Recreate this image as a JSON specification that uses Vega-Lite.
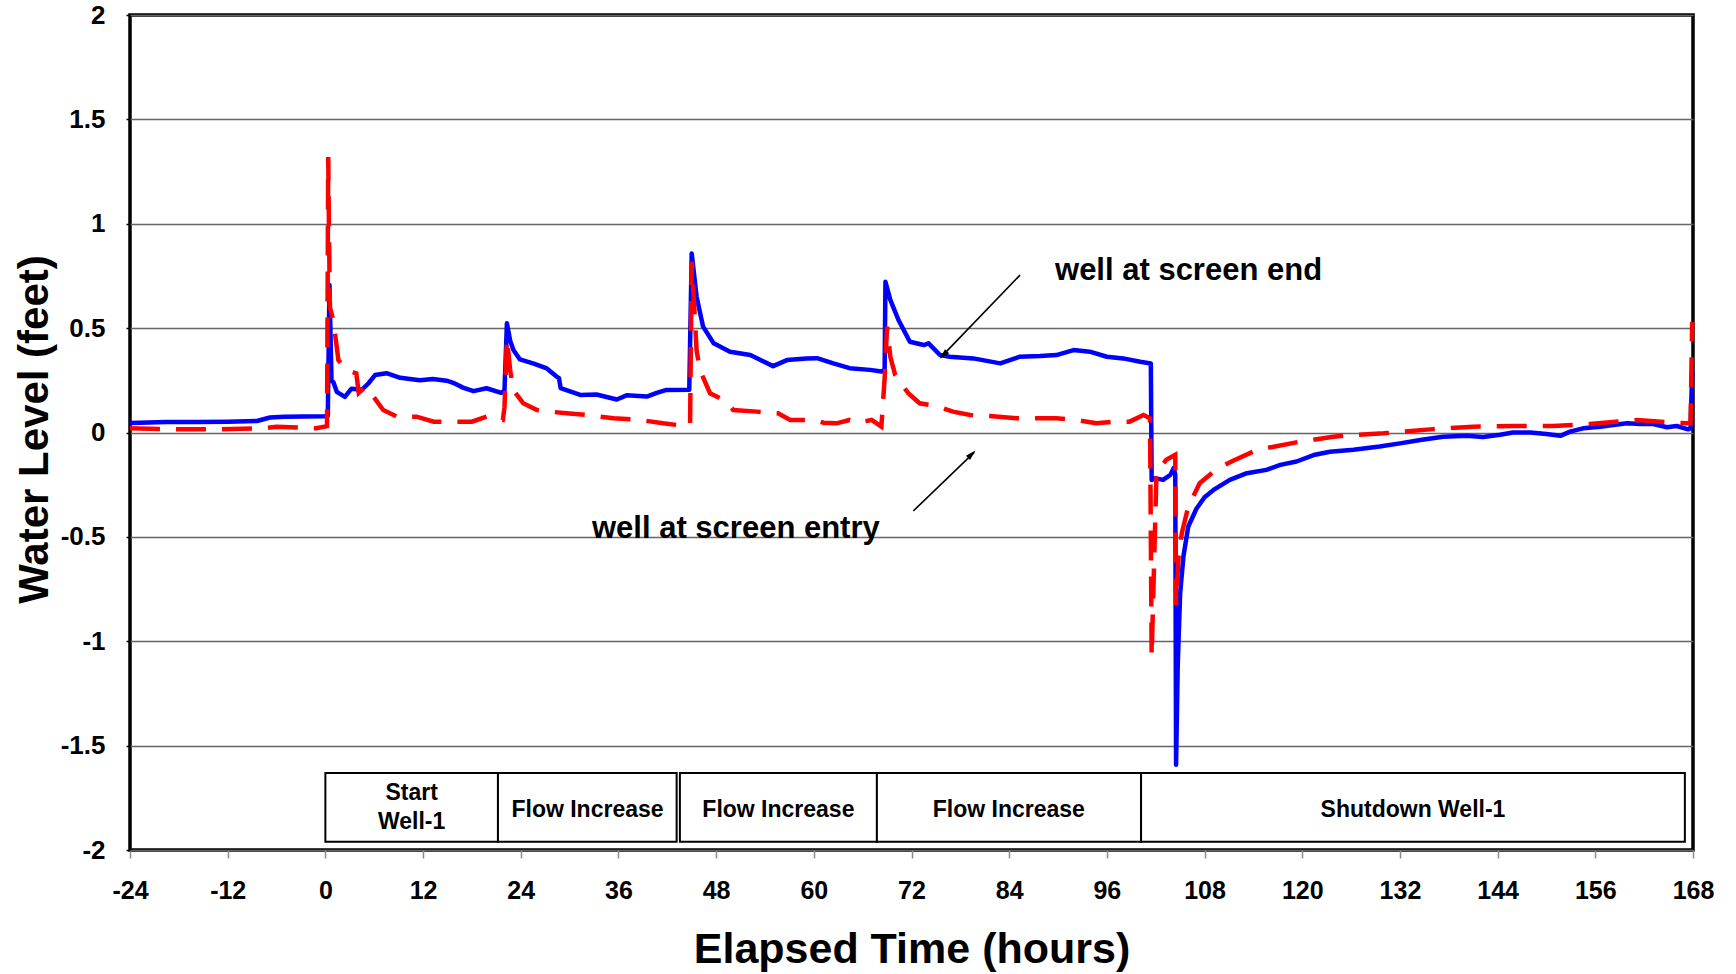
{
  "$schema": "https://vega.github.io/schema/vega-lite/v6.json",
  "width": 1563,
  "height": 835,
  "autosize": {"type": "none"},
  "padding": {"left": 130, "top": 15, "right": 43, "bottom": 124},
  "background": "white",
  "config": {
    "view": {"stroke": "black", "strokeWidth": 3.5},
    "font": "Liberation Sans",
    "axis": {
      "labelFont": "Liberation Sans",
      "labelFontWeight": "bold",
      "labelFontSize": 25,
      "labelColor": "black",
      "labelFlush": false,
      "labelOverlap": false,
      "titleFont": "Liberation Sans",
      "titleFontWeight": "bold",
      "titleFontSize": 42,
      "titleColor": "black",
      "domain": false
    }
  },
  "datasets": {
    "blue": [
      {"h": -24, "v": 0.045}, {"h": -19.5, "v": 0.05}, {"h": -15.8, "v": 0.05}, {"h": -12, "v": 0.052},
      {"h": -8.4, "v": 0.055}, {"h": -6.8, "v": 0.072}, {"h": -5, "v": 0.076}, {"h": -0.1, "v": 0.078},
      {"h": 0.3, "v": 0.08}, {"h": 0.5, "v": 0.707}, {"h": 0.75, "v": 0.25}, {"h": 1.0, "v": 0.24},
      {"h": 1.4, "v": 0.195}, {"h": 2.4, "v": 0.171}, {"h": 3.2, "v": 0.21}, {"h": 4.5, "v": 0.205},
      {"h": 5.3, "v": 0.236}, {"h": 6.1, "v": 0.275}, {"h": 7.5, "v": 0.284}, {"h": 9.2, "v": 0.262},
      {"h": 11.6, "v": 0.25}, {"h": 13.2, "v": 0.256}, {"h": 14.9, "v": 0.248}, {"h": 15.7, "v": 0.238}, {"h": 16.9, "v": 0.215}, {"h": 18.2, "v": 0.198},
      {"h": 19.8, "v": 0.212}, {"h": 21.6, "v": 0.19}, {"h": 22.0, "v": 0.2}, {"h": 22.3, "v": 0.523},
      {"h": 22.7, "v": 0.44}, {"h": 23.1, "v": 0.395}, {"h": 23.9, "v": 0.35}, {"h": 25.6, "v": 0.33},
      {"h": 27.2, "v": 0.307}, {"h": 28.4, "v": 0.268}, {"h": 28.7, "v": 0.26}, {"h": 28.9, "v": 0.212},
      {"h": 31.3, "v": 0.18}, {"h": 33.3, "v": 0.182}, {"h": 35.8, "v": 0.158}, {"h": 37.0, "v": 0.178},
      {"h": 39.5, "v": 0.172}, {"h": 40.7, "v": 0.19}, {"h": 41.9, "v": 0.204}, {"h": 44.7, "v": 0.205},
      {"h": 45.0, "v": 0.858}, {"h": 45.6, "v": 0.651}, {"h": 46.4, "v": 0.507}, {"h": 47.7, "v": 0.427},
      {"h": 49.7, "v": 0.387}, {"h": 52.2, "v": 0.371}, {"h": 55.0, "v": 0.318}, {"h": 56.7, "v": 0.347},
      {"h": 59.1, "v": 0.355}, {"h": 60.4, "v": 0.356}, {"h": 62.4, "v": 0.331}, {"h": 64.4, "v": 0.308},
      {"h": 66.9, "v": 0.3}, {"h": 68.3, "v": 0.292}, {"h": 68.7, "v": 0.3}, {"h": 68.8, "v": 0.722},
      {"h": 69.4, "v": 0.635}, {"h": 70.4, "v": 0.539}, {"h": 71.8, "v": 0.435}, {"h": 73.5, "v": 0.419},
      {"h": 74.1, "v": 0.427}, {"h": 75.5, "v": 0.371}, {"h": 76.7, "v": 0.363}, {"h": 79.6, "v": 0.355},
      {"h": 82.9, "v": 0.331}, {"h": 85.3, "v": 0.363}, {"h": 87.8, "v": 0.366}, {"h": 89.8, "v": 0.371},
      {"h": 91.9, "v": 0.395}, {"h": 93.9, "v": 0.387}, {"h": 96.0, "v": 0.363}, {"h": 98.0, "v": 0.355},
      {"h": 100.1, "v": 0.339}, {"h": 101.4, "v": 0.331}, {"h": 101.5, "v": -0.227}, {"h": 101.9, "v": -0.219},
      {"h": 102.9, "v": -0.227}, {"h": 103.8, "v": -0.203}, {"h": 104.2, "v": -0.171}, {"h": 104.4, "v": -0.2},
      {"h": 104.5, "v": -1.592}, {"h": 104.7, "v": -1.121}, {"h": 105.0, "v": -0.77}, {"h": 105.4, "v": -0.595},
      {"h": 106.0, "v": -0.45}, {"h": 107.0, "v": -0.365}, {"h": 108.0, "v": -0.31}, {"h": 109.1, "v": -0.275},
      {"h": 111.1, "v": -0.227}, {"h": 113.2, "v": -0.195}, {"h": 115.6, "v": -0.179}, {"h": 117.3, "v": -0.155},
      {"h": 119.3, "v": -0.139}, {"h": 121.4, "v": -0.108}, {"h": 123.4, "v": -0.092}, {"h": 126.3, "v": -0.083},
      {"h": 129.5, "v": -0.067}, {"h": 132.0, "v": -0.052}, {"h": 134.5, "v": -0.036}, {"h": 137.3, "v": -0.02},
      {"h": 140.2, "v": -0.016}, {"h": 142.2, "v": -0.022}, {"h": 144.3, "v": -0.011}, {"h": 145.9, "v": 0.0},
      {"h": 148.0, "v": 0.0}, {"h": 150.0, "v": -0.007}, {"h": 151.7, "v": -0.016}, {"h": 152.9, "v": 0.004},
      {"h": 154.5, "v": 0.02}, {"h": 156.6, "v": 0.028}, {"h": 158.2, "v": 0.036}, {"h": 159.9, "v": 0.044},
      {"h": 161.5, "v": 0.041}, {"h": 163.1, "v": 0.041}, {"h": 164.8, "v": 0.025}, {"h": 166.0, "v": 0.031},
      {"h": 167.4, "v": 0.015}, {"h": 167.7, "v": 0.02}, {"h": 167.9, "v": 0.3}
    ],
    "red": [
      {"h": -24, "v": 0.02}, {"h": -19.9, "v": 0.016}, {"h": -13.8, "v": 0.015}, {"h": -7.6, "v": 0.02},
      {"h": -6.0, "v": 0.028}, {"h": -1.1, "v": 0.02}, {"h": 0.2, "v": 0.03}, {"h": 0.35, "v": 1.32},
      {"h": 0.55, "v": 0.6}, {"h": 0.9, "v": 0.55}, {"h": 1.3, "v": 0.44}, {"h": 1.6, "v": 0.347},
      {"h": 2.6, "v": 0.299}, {"h": 3.8, "v": 0.283}, {"h": 4.1, "v": 0.19}, {"h": 4.9, "v": 0.219},
      {"h": 5.9, "v": 0.172}, {"h": 7.1, "v": 0.108}, {"h": 8.8, "v": 0.076}, {"h": 11.2, "v": 0.076},
      {"h": 13.3, "v": 0.052}, {"h": 15.3, "v": 0.052}, {"h": 18.0, "v": 0.052}, {"h": 19.8, "v": 0.076},
      {"h": 21.3, "v": 0.06}, {"h": 21.8, "v": 0.06}, {"h": 22.0, "v": 0.12}, {"h": 22.3, "v": 0.45},
      {"h": 22.7, "v": 0.299}, {"h": 23.1, "v": 0.203}, {"h": 24.3, "v": 0.14}, {"h": 26.0, "v": 0.108},
      {"h": 27.6, "v": 0.1}, {"h": 29.6, "v": 0.092}, {"h": 32.1, "v": 0.084}, {"h": 35.4, "v": 0.068},
      {"h": 38.7, "v": 0.06}, {"h": 41.5, "v": 0.044}, {"h": 43.2, "v": 0.036}, {"h": 44.8, "v": 0.036},
      {"h": 45.0, "v": 0.818}, {"h": 45.6, "v": 0.395}, {"h": 46.0, "v": 0.3}, {"h": 47.25, "v": 0.188},
      {"h": 49.3, "v": 0.148}, {"h": 50.1, "v": 0.108}, {"h": 53.0, "v": 0.1}, {"h": 55.6, "v": 0.092},
      {"h": 57.1, "v": 0.06}, {"h": 60.0, "v": 0.06}, {"h": 61.2, "v": 0.047}, {"h": 62.8, "v": 0.044},
      {"h": 64.4, "v": 0.06}, {"h": 65.3, "v": 0.047}, {"h": 67.1, "v": 0.06}, {"h": 68.3, "v": 0.028},
      {"h": 68.7, "v": 0.26}, {"h": 69.0, "v": 0.507}, {"h": 69.4, "v": 0.363}, {"h": 70.0, "v": 0.275},
      {"h": 71.6, "v": 0.188}, {"h": 73.0, "v": 0.14}, {"h": 75.1, "v": 0.127}, {"h": 77.1, "v": 0.1},
      {"h": 79.2, "v": 0.084}, {"h": 81.6, "v": 0.079}, {"h": 84.9, "v": 0.068}, {"h": 87.4, "v": 0.068},
      {"h": 89.8, "v": 0.068}, {"h": 92.3, "v": 0.06}, {"h": 94.7, "v": 0.044}, {"h": 96.8, "v": 0.052},
      {"h": 98.8, "v": 0.052}, {"h": 100.5, "v": 0.084}, {"h": 101.3, "v": 0.068}, {"h": 101.5, "v": -1.073},
      {"h": 102.1, "v": -0.187}, {"h": 103.3, "v": -0.131}, {"h": 104.4, "v": -0.107}, {"h": 104.5, "v": -0.826},
      {"h": 104.8, "v": -0.595}, {"h": 105.2, "v": -0.483}, {"h": 106.0, "v": -0.355}, {"h": 107.4, "v": -0.243},
      {"h": 109.5, "v": -0.175}, {"h": 111.5, "v": -0.135}, {"h": 114.4, "v": -0.084}, {"h": 116.5, "v": -0.068},
      {"h": 119.7, "v": -0.044}, {"h": 123.8, "v": -0.02}, {"h": 126.3, "v": -0.012}, {"h": 130.0, "v": -0.004},
      {"h": 135.7, "v": 0.015}, {"h": 141.0, "v": 0.028}, {"h": 145.9, "v": 0.031}, {"h": 150.8, "v": 0.031},
      {"h": 155.3, "v": 0.041}, {"h": 161.1, "v": 0.06}, {"h": 165.6, "v": 0.047}, {"h": 167.4, "v": 0.044},
      {"h": 167.7, "v": 0.045}, {"h": 167.9, "v": 0.53}
    ],
    "boxes": [
      {"h": 0.0, "h2": 21.2, "v": -1.631, "v2": -1.961, "mid": 10.6, "lv": -1.727, "label": "Start\nWell-1"},
      {"h": 21.2, "h2": 43.15, "v": -1.631, "v2": -1.961, "mid": 32.2, "lv": -1.806, "label": "Flow Increase"},
      {"h": 43.55, "h2": 67.75, "v": -1.631, "v2": -1.961, "mid": 55.65, "lv": -1.806, "label": "Flow Increase"},
      {"h": 67.75, "h2": 100.2, "v": -1.631, "v2": -1.961, "mid": 83.95, "lv": -1.806, "label": "Flow Increase"},
      {"h": 100.2, "h2": 167.0, "v": -1.631, "v2": -1.961, "mid": 133.6, "lv": -1.806, "label": "Shutdown Well-1"}
    ],
    "notes": [
      {"h": 89.63, "v": 0.7305, "label": "well at screen end"},
      {"h": 32.75, "v": -0.5054, "label": "well at screen entry"}
    ],
    "arrows": [
      {"id": "end", "h": 85.33, "v": 0.754, "h2": 75.6, "v2": 0.36},
      {"id": "entry", "h": 72.22, "v": -0.376, "h2": 79.7, "v2": -0.095}
    ],
    "heads": [
      {"id": "end", "h": 75.92, "v": 0.371},
      {"id": "entry", "h": 79.4, "v": -0.104}
    ]
  },
  "encoding": {
    "x": {
      "field": "h", "type": "quantitative",
      "scale": {"domain": [-24, 168], "nice": false, "zero": false},
      "axis": {
        "values": [-24, -12, 0, 12, 24, 36, 48, 60, 72, 84, 96, 108, 120, 132, 144, 156, 168],
        "labelExpr": "datum.value + ''",
        "grid": false,
        "tickColor": "#8c8c8c", "tickWidth": 1.5, "tickSize": 8,
        "labelPadding": 20,
        "title": "Elapsed Time (hours)",
        "titleFontSize": 43,
        "titleY": 112, "titleBaseline": "alphabetic"
      }
    },
    "y": {
      "field": "v", "type": "quantitative",
      "scale": {"domain": [-2, 2], "nice": false, "zero": false},
      "axis": {
        "values": [-2, -1.5, -1, -0.5, 0, 0.5, 1, 1.5, 2],
        "labelExpr": "datum.value + ''",
        "labelFontSize": 26,
        "grid": true, "gridColor": "#666666", "gridWidth": 1.5,
        "tickColor": "black", "tickWidth": 1.5, "tickSize": 4,
        "labelPadding": 21,
        "title": "Water Level (feet)",
        "titleX": -83, "titleY": 414, "titleBaseline": "alphabetic", "titleAngle": -90
      }
    }
  },
  "layer": [
    {
      "data": {"name": "blue"},
      "mark": {"type": "line", "color": "#0000ff", "strokeWidth": 4.5, "strokeJoin": "round"}
    },
    {
      "data": {"name": "red"},
      "mark": {"type": "line", "color": "#ff0000", "strokeWidth": 4.5, "strokeDash": [30, 16]}
    },
    {
      "data": {"name": "boxes"},
      "mark": {"type": "rect", "fill": "white", "stroke": "black", "strokeWidth": 2},
      "encoding": {"x2": {"field": "h2"}, "y2": {"field": "v2"}}
    },
    {
      "data": {"name": "boxes"},
      "mark": {"type": "text", "font": "Liberation Sans", "fontWeight": "bold", "fontSize": 23, "align": "center", "baseline": "middle", "lineBreak": "\n", "lineHeight": 29, "color": "black"},
      "encoding": {
        "x": {"field": "mid", "type": "quantitative"},
        "y": {"field": "lv", "type": "quantitative"},
        "text": {"field": "label"}
      }
    },
    {
      "data": {"name": "notes"},
      "mark": {"type": "text", "font": "Liberation Sans", "fontWeight": "bold", "fontSize": 31, "align": "left", "baseline": "alphabetic", "color": "black"},
      "encoding": {"text": {"field": "label"}}
    },
    {
      "data": {"name": "arrows"},
      "mark": {"type": "rule", "color": "black", "strokeWidth": 1.6},
      "encoding": {"x2": {"field": "h2"}, "y2": {"field": "v2"}}
    },
    {
      "data": {"name": "heads"},
      "transform": [{"filter": "datum.id == 'end'"}],
      "mark": {"type": "point", "shape": "M0,-1L0.55,1L-0.55,1Z", "filled": true, "color": "black", "opacity": 1, "size": 110, "angle": 224}
    },
    {
      "data": {"name": "heads"},
      "transform": [{"filter": "datum.id == 'entry'"}],
      "mark": {"type": "point", "shape": "M0,-1L0.55,1L-0.55,1Z", "filled": true, "color": "black", "opacity": 1, "size": 110, "angle": 46}
    }
  ]
}
